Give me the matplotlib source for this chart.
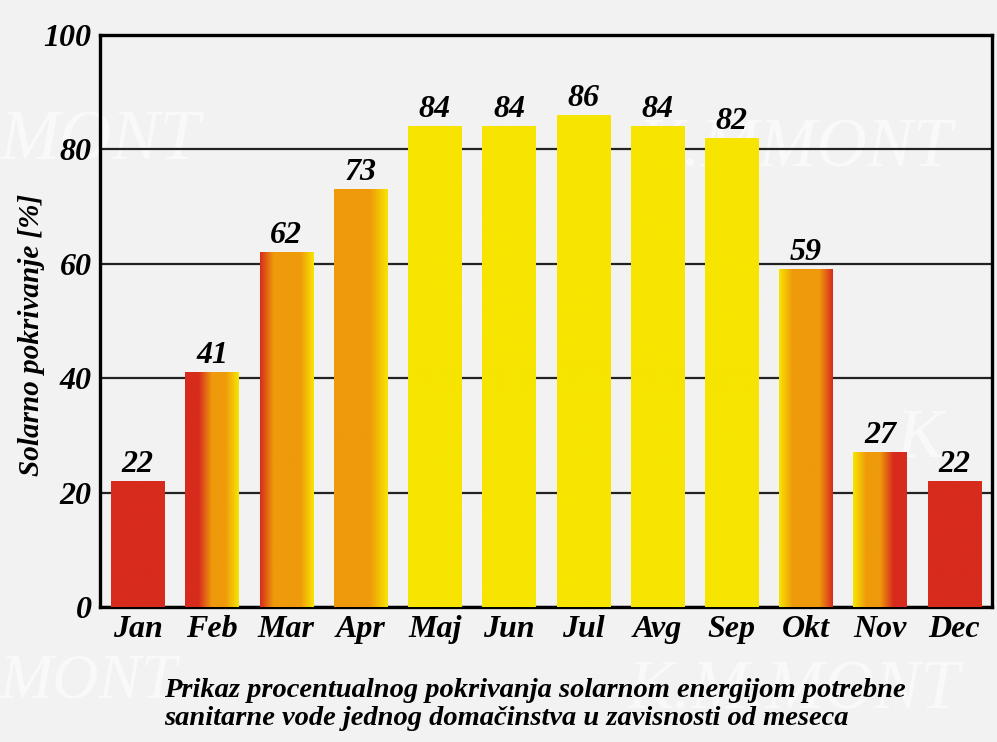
"""Solar coverage of sanitary hot water per month (bar chart with gradient bars)."""

import matplotlib.pyplot as plt
import numpy as np
from matplotlib.colors import LinearSegmentedColormap

MONTHS = ["Jan", "Feb", "Mar", "Apr", "Maj", "Jun", "Jul",
          "Avg", "Sep", "Okt", "Nov", "Dec"]
COVERAGE = [22, 41, 62, 73, 84, 84, 86, 84, 82, 59, 27, 22]
Y_TICKS = [0, 20, 40, 60, 80, 100]

RED = "#d72b1d"
ORANGE = "#ee9a0b"
YELLOW = "#f7e500"
BG = "#f2f2f2"

# left-to-right colour stops of each bar's fill
FILLS = [
    [RED, RED],
    [RED, RED, ORANGE, ORANGE, YELLOW],
    [RED, ORANGE, ORANGE, ORANGE, YELLOW],
    [ORANGE, ORANGE, ORANGE, YELLOW],
    [YELLOW, YELLOW],
    [YELLOW, YELLOW],
    [YELLOW, YELLOW],
    [YELLOW, YELLOW],
    [YELLOW, YELLOW],
    [YELLOW, ORANGE, ORANGE, ORANGE, RED],
    [YELLOW, ORANGE, ORANGE, RED, RED],
    [RED, RED],
]

FONT = "Liberation Serif"
BOLD_IT = dict(family=FONT, weight="bold", style="italic")

fig = plt.figure(figsize=(9.97, 7.42), dpi=100, facecolor=BG)
ax = fig.add_axes([0.1003, 0.182, 0.895, 0.771])
ax.set_facecolor("none")

# faint watermark lettering behind the chart
wm = dict(color="white", alpha=0.6, family=FONT, style="italic", zorder=-5)
fig.text(0.0, 0.785, "MONT", fontsize=52, **wm)
fig.text(0.64, 0.775, "K.MMONT", fontsize=50, **wm)
fig.text(0.9, 0.385, "K.", fontsize=50, **wm)
fig.text(0.63, 0.045, "K.M.MONT", fontsize=50, **wm)
fig.text(0.0, 0.06, "MONT", fontsize=46, **wm)

x = np.arange(len(MONTHS))
width = 0.72
bars = ax.bar(x, COVERAGE, width=width, color="none", edgecolor="none", zorder=3)
grad = np.linspace(0, 1, 256).reshape(1, -1)
for bar, stops in zip(bars, FILLS):
    cmap = LinearSegmentedColormap.from_list("bar", stops)
    x0, h = bar.get_x(), bar.get_height()
    im = ax.imshow(grad, cmap=cmap, aspect="auto", zorder=3,
                   extent=(x0, x0 + bar.get_width(), 0, h))
    im.set_clip_path(bar)
    ax.text(bar.get_x() + bar.get_width() / 2, h + 0.4, f"{h:g}",
            ha="center", va="bottom", fontsize=23, zorder=4, **BOLD_IT)

ax.set_xlim(-0.51, len(MONTHS) - 0.49)
ax.set_ylim(0, 100)
ax.set_yticks(Y_TICKS)
ax.set_xticks(x, MONTHS)
ax.yaxis.grid(True, color="#222222", linewidth=1.6, zorder=1)
ax.set_axisbelow(True)
ax.tick_params(length=0, pad=6)
for lab in ax.get_xticklabels() + ax.get_yticklabels():
    lab.set_fontfamily(FONT)
    lab.set_fontweight("bold")
    lab.set_fontstyle("italic")
    lab.set_fontsize(23)
for spine in ax.spines.values():
    spine.set_linewidth(2.4)
    spine.set_color("black")

ax.set_ylabel("Solarno pokrivanje [%]", fontsize=21, **BOLD_IT)
ax.yaxis.set_label_coords(-0.062, 0.475)

fig.text(0.165, 0.070,
         "Prikaz procentualnog pokrivanja solarnom energijom potrebne",
         fontsize=20.5, ha="left", va="center", **BOLD_IT)
fig.text(0.165, 0.032,
         "sanitarne vode jednog domačinstva u zavisnosti od meseca",
         fontsize=20.5, ha="left", va="center", **BOLD_IT)

fig.savefig("out.png", dpi=100, facecolor=BG)
